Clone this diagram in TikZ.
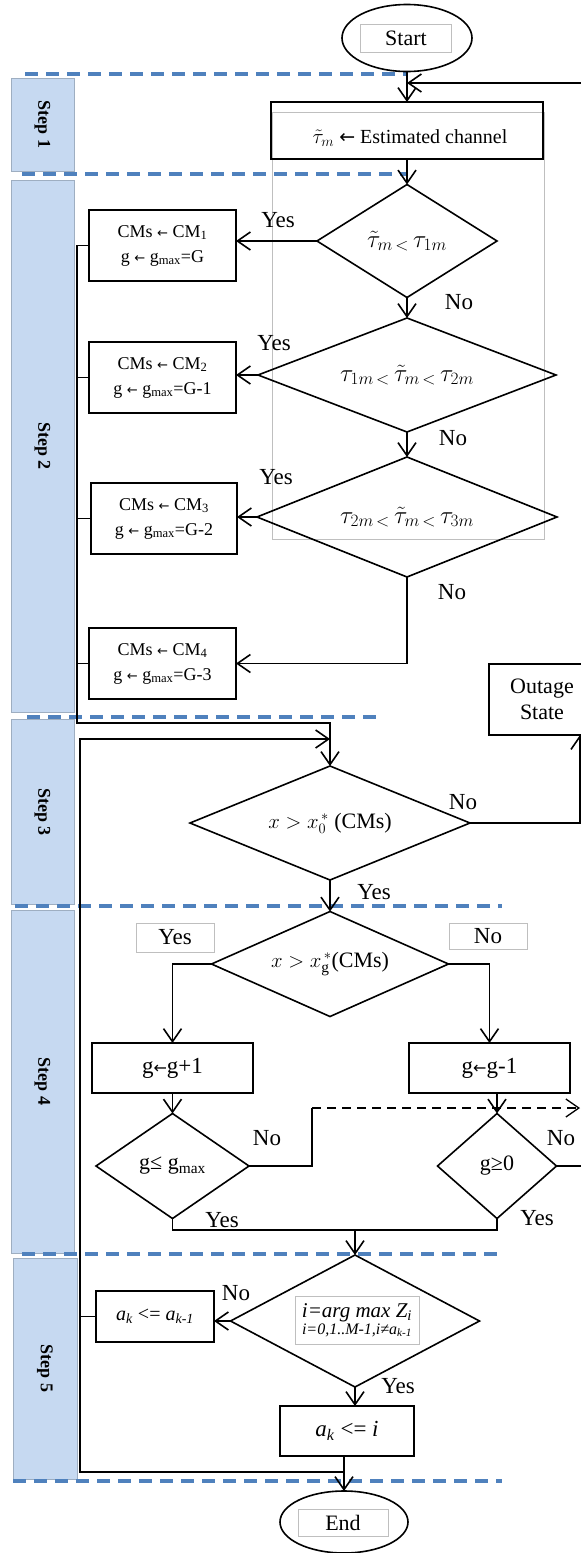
\documentclass[tikz,border=0pt]{standalone}
\usepackage{fontspec}
\setmainfont{Liberation Serif}
\newfontfamily\arrfont{DejaVu Sans}
\newcommand\larr[1]{{\arrfont\fontsize{#1}{#1}\selectfont ←}}
\usetikzlibrary{shapes.geometric,arrows.meta}
\definecolor{dashblue}{HTML}{4F81BD}
\definecolor{stepfill}{HTML}{C6D9F1}
\begin{document}
\begin{tikzpicture}[x=1pt,y=-1pt,
  line width=1.6pt,
  every node/.style={inner sep=0pt, outer sep=0pt},
  arr/.style={-{Straight Barb[length=13pt,width=18pt]}},
  procbox/.style={draw, rectangle, line width=1.8pt, align=center},
  decbox/.style={draw, diamond, line width=1.6pt},
  termbox/.style={draw, ellipse, line width=1.6pt},
  stepbox/.style={rectangle, fill=stepfill, draw=stepfill!80!black, line width=0.4pt, rotate=-90, font=\fontsize{18}{20}\selectfont\bfseries},
  sepline/.style={draw=dashblue, line width=3.2pt, dash pattern=on 13pt off 8pt},
  faintbox/.style={draw=black!25, line width=0.7pt},
  lbl/.style={font=\fontsize{23}{26}\selectfont},
  cmtext/.style={font=\fontsize{18}{25}\selectfont, align=center},
  bigtext/.style={font=\fontsize{22}{26}\selectfont},
]
\useasboundingbox (0,0) rectangle (581,1553);

% step bars
\node[stepbox, minimum width=93pt, minimum height=63pt] (s1) at (42.5,124.5) {Step 1};
\node[stepbox, minimum width=532pt, minimum height=63pt] (s2) at (42.5,446) {Step 2};
\node[stepbox, minimum width=185pt, minimum height=63pt] (s3) at (42.5,812) {Step 3};
\node[stepbox, minimum width=343pt, minimum height=63pt] (s4) at (42.5,1081.5) {Step 4};
\node[stepbox, minimum width=221pt, minimum height=64pt] (s5) at (45,1368.5) {Step 5};

% faint text-box frame
\draw[faintbox] (272,112) rectangle (544,539);

% separators
\draw[sepline] (25,74) -- (407,74);
\draw[sepline] (22,174) -- (406,174);
\draw[sepline] (27,717) -- (381,717);
\draw[sepline] (15,906) -- (502,906);
\draw[sepline] (22,1254) -- (498,1254);
\draw[sepline] (13,1481) -- (502,1481);

% start
\node[termbox, minimum width=130pt, minimum height=67pt] (start) at (407,38) {};
\node[faintbox, bigtext, minimum width=91pt, minimum height=28pt] (startlbl) at (406,38) {Start};

% step 1
\node[procbox, minimum width=272pt, minimum height=57pt] (est) at (407,130.5) {};
\node[font=\fontsize{20}{24}\selectfont] (esttxt) at (410,138) {$\tilde{\tau}_{m}$ \larr{19} Estimated channel};
\draw[arr] (start.south) -- (est.north);
\coordinate (loopR) at (581,83);
\draw[arr] (loopR) -- (loopR -| start.south);

% step 2
\node[decbox, minimum width=180pt, minimum height=113pt, aspect=1.6, font=\fontsize{24}{28}\selectfont] (d1) at (407,241) {$\tilde{\tau}_{m\,<}\,\tau_{1m}$};
\draw[arr] (est.south) -- (d1.north);
\node[procbox, cmtext, minimum width=147pt, minimum height=71pt] (b1) at (162.5,245.5) {CMs \larr{13} CM\textsubscript{1}\\g \larr{13} g\textsubscript{max}=G};
\draw[arr] (d1.west) -- (d1.west -| b1.east);
\node[lbl] (y1) at (278,220) {Yes};
\node[lbl] (n1) at (459,302) {No};

\node[decbox, minimum width=298pt, minimum height=114pt, aspect=2.6, font=\fontsize{24}{28}\selectfont] (d2) at (407,375) {$\tau_{1m\,<}\,\tilde{\tau}_{m\,<}\,\tau_{2m}$};
\draw[arr] (d1.south) -- (d2.north);
\node[procbox, cmtext, minimum width=147pt, minimum height=71pt] (b2) at (162.5,377.5) {CMs \larr{13} CM\textsubscript{2}\\g \larr{13} g\textsubscript{max}=G-1};
\draw[arr] (d2.west) -- (d2.west -| b2.east);
\node[lbl] (y2) at (274,343) {Yes};
\node[lbl] (n2) at (453,438) {No};

\node[decbox, minimum width=300pt, minimum height=120pt, aspect=2.5, font=\fontsize{24}{28}\selectfont] (d3) at (407,517) {$\tau_{2m\,<}\,\tilde{\tau}_{m\,<}\,\tau_{3m}$};
\draw[arr] (d2.south) -- (d3.north);
\node[procbox, cmtext, minimum width=146pt, minimum height=71pt] (b3) at (164,518.5) {CMs \larr{13} CM\textsubscript{3}\\g \larr{13} g\textsubscript{max}=G-2};
\draw[arr] (d3.west) -- (d3.west -| b3.east);
\node[lbl] (y3) at (276,477) {Yes};
\node[lbl] (n3) at (452,592) {No};

\node[procbox, cmtext, minimum width=147pt, minimum height=71pt] (b4) at (162.5,663.5) {CMs \larr{13} CM\textsubscript{4}\\g \larr{13} g\textsubscript{max}=G-3};
\draw[arr] (d3.south) |- (b4.east);

% step 3
\node[decbox, minimum width=280pt, minimum height=114pt, aspect=2.45, bigtext] (d4) at (330,823) {$x>x_{0}^{\,*}$ (CMs)};
\coordinate (busA) at (77,723);
\draw[arr] (b1.west) -| (busA) -| (d4.north);
\draw (b2.west) -- (b2.west -| busA);
\draw (b3.west) -- (b3.west -| busA);
\draw (b4.west) -- (b4.west -| busA);

\node[procbox, bigtext, minimum width=106pt, minimum height=71pt] (outage) at (542,699.5) {Outage\\State};
\coordinate (outin) at (580,735);
\draw[arr] (d4.east) -| (outin);
\node[lbl] (n4) at (463,802) {No};
\node[lbl] (y4) at (374,892) {Yes};

% step 4
\node[decbox, minimum width=237pt, minimum height=105pt, aspect=2.26, bigtext] (d5) at (330,964) {$x>x_{\mathrm{g}}^{\,*}$(CMs)};
\draw[arr] (d4.south) -- (d5.north);
\node[faintbox, lbl, minimum width=78pt, minimum height=29pt] (y5) at (175,937.5) {Yes};
\node[faintbox, lbl, minimum width=78pt, minimum height=26pt] (n5) at (488,936) {No};

\node[procbox, font=\fontsize{23}{26}\selectfont, minimum width=161pt, minimum height=50pt] (inc) at (172.5,1068) {g\larr{16}g+1};
\node[procbox, font=\fontsize{23}{26}\selectfont, minimum width=161pt, minimum height=50pt] (decn) at (489.5,1068) {g\larr{16}g-1};
\draw[arr] (d5.west) -| (inc.north);
\draw[arr] (d5.east) -| (decn.north);

\node[decbox, minimum width=153pt, minimum height=105pt, aspect=1.46, bigtext] (d6) at (172.5,1166) {g≤ g\textsubscript{max}};
\node[decbox, minimum width=119pt, minimum height=105pt, aspect=1.13, bigtext] (d7) at (497,1166) {g≥0};
\draw[arr] (inc.south) -- (d6.north);
\draw[arr] (d7.north |- decn.south) -- (d7.north);

\node[lbl] (n6) at (267,1138) {No};
\node[lbl] (n7) at (561,1138) {No};
\node[lbl] (y6) at (222,1220) {Yes};
\node[lbl] (y7) at (537,1218) {Yes};

\coordinate (nj) at (312,1108);
\coordinate (outA) at (580,1108);
\coordinate (outB) at (581,1166);
\draw (d6.east) -| (nj);
\draw[arr, line width=1.3pt, dash pattern=on 9pt off 6pt] (nj) -- (outA);
\draw (d7.east) -- (outB);

\coordinate (jn) at (355,1230);
\draw (d6.south) |- (jn) -| (d7.south);

% step 5
\node[decbox, minimum width=249pt, minimum height=132pt] (d8) at (355,1321) {};
\draw[arr] (jn) -- (d8.north);
\node[faintbox, align=center, minimum width=124pt, minimum height=48pt] (argbox) at (357,1320) {\fontsize{21}{22}\selectfont\itshape i=arg max Z\textsubscript{i}\\[1pt]\fontsize{16}{18}\selectfont\itshape i=0,1..M-1,i≠a\textsubscript{k-1}};

\node[procbox, font=\fontsize{20}{24}\selectfont, minimum width=118pt, minimum height=51pt] (ak1) at (155,1316.5) {\textit{a}\textsubscript{\textit{k}} <= \textit{a}\textsubscript{\textit{k-1}}};
\draw[arr] (d8.west) -- (d8.west -| ak1.east);
\node[lbl] (n8) at (236,1293) {No};
\node[lbl] (y8) at (398,1386) {Yes};

\node[procbox, font=\fontsize{23}{26}\selectfont, minimum width=134pt, minimum height=50pt] (akb) at (347,1431) {\textit{a}\textsubscript{\textit{k}} <= \textit{i}};
\draw[arr] (d8.south) -- (d8.south |- akb.north);

\node[termbox, minimum width=128pt, minimum height=62pt] (endn) at (344,1522) {};
\node[faintbox, bigtext, minimum width=90pt, minimum height=27pt] (endlbl) at (343,1522.5) {End};
\draw[arr] (endn.north |- akb.south) -- (endn.north);

\coordinate (busB) at (80,739);
\coordinate (busC) at (80,1472);
\draw[arr] (ak1.west) -| (busB) -- (busB -| d4.north);
\draw (busB) -- (busC) -- (busC -| endn.north);
\end{tikzpicture}
\end{document}
